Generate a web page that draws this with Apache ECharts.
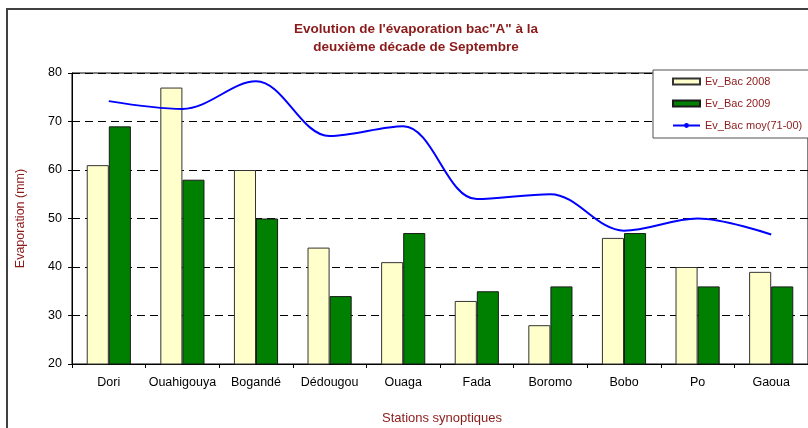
<!DOCTYPE html>
<html>
<head>
<meta charset="utf-8">
<script src="https://cdn.jsdelivr.net/npm/echarts@6/dist/echarts.min.js"></script>
<style>
html,body{margin:0;padding:0;background:#fff;}
#chart{width:808px;height:428px;}
</style>
</head>
<body>
<div id="chart"></div>
<script>
const categories = ['Dori','Ouahigouya','Bogandé','Dédougou','Ouaga','Fada','Boromo','Bobo','Po','Gaoua'];
const bac2008 = [61, 77, 60, 44, 41, 33, 28, 46, 40, 39];
const bac2009 = [69, 58, 50, 34, 47, 35, 36, 47, 36, 36];
const bacMoy = [74.2, 72.6, 78.3, 67, 69, 54, 55, 47.5, 50, 46.7];
const seriesNames = ['Ev_Bac 2008', 'Ev_Bac 2009', 'Ev_Bac moy(71-00)'];
const titleLines = ['Evolution de l\'évaporation bac"A" à la', 'deuxième décade de Septembre'];
const yAxisName = 'Evaporation (mm)';
const xAxisName = 'Stations synoptiques';

const FONT = '"Liberation Sans", Arial, sans-serif';
const DARKRED = '#8B1A1A';

const chart = echarts.init(document.getElementById('chart'), null, {renderer: 'canvas'});
chart.setOption({
  animation: false,
  backgroundColor: '#fff',
  textStyle: {fontFamily: FONT},
  graphic: [
    {type: 'rect', shape: {x: 7, y: 9, width: 900, height: 500},
     style: {fill: 'none', stroke: '#404040', lineWidth: 2}, silent: true, z: -10},
    {type: 'text', x: 416, y: 29, style: {text: titleLines[0], fill: DARKRED, font: 'bold 13.5px ' + FONT, textAlign: 'center', textVerticalAlign: 'middle'}},
    {type: 'text', x: 416, y: 47, style: {text: titleLines[1], fill: DARKRED, font: 'bold 13.5px ' + FONT, textAlign: 'center', textVerticalAlign: 'middle'}},
    {type: 'text', x: 442, y: 418, style: {text: xAxisName, fill: DARKRED, font: '13px ' + FONT, textAlign: 'center', textVerticalAlign: 'middle'}}
  ],
  legend: {
    orient: 'vertical',
    left: 653, top: 70,
    padding: [6, 40, 7, 19],
    itemGap: 11,
    itemWidth: 27, itemHeight: 6,
    backgroundColor: '#fff',
    borderColor: '#505050', borderWidth: 1,
    textStyle: {color: DARKRED, fontSize: 11, fontFamily: FONT},
    data: [
      {name: seriesNames[0], icon: 'rect'},
      {name: seriesNames[1], icon: 'rect'},
      {name: seriesNames[2]}
    ]
  },
  grid: {left: 72, top: 73, right: -1, bottom: 64, show: true, borderColor: '#000', borderWidth: 1, backgroundColor: 'transparent'},
  xAxis: {
    type: 'category',
    data: categories,
    boundaryGap: true,
    axisLine: {lineStyle: {color: '#000', width: 1}},
    axisTick: {show: true, length: 4, lineStyle: {color: '#000'}},
    axisLabel: {color: '#000', fontSize: 12.5, margin: 12, fontFamily: FONT, interval: 0},
    splitLine: {show: false}
  },
  yAxis: {
    type: 'value',
    min: 20, max: 80, interval: 10,
    name: yAxisName,
    nameLocation: 'middle',
    nameGap: 45,
    nameTextStyle: {color: DARKRED, fontSize: 12.5, fontFamily: FONT},
    axisLine: {show: true, lineStyle: {color: '#000', width: 1}},
    axisTick: {show: true, length: 4, lineStyle: {color: '#000'}},
    axisLabel: {color: '#000', fontSize: 12.5, margin: 10, fontFamily: FONT},
    splitLine: {show: true, lineStyle: {color: '#000', type: [8, 5], width: 1}}
  },
  series: [
    {name: seriesNames[0], type: 'bar', data: bac2008, barGap: '0%', barCategoryGap: '40%',
     itemStyle: {color: '#FFFFCC', borderColor: '#333', borderWidth: 1}},
    {name: seriesNames[1], type: 'bar', data: bac2009, barGap: '0%', barCategoryGap: '40%',
     itemStyle: {color: '#008000', borderColor: '#1a1a1a', borderWidth: 1}},
    {name: seriesNames[2], type: 'line', data: bacMoy, smooth: 0.35, symbol: 'none', showSymbol: false,
     lineStyle: {color: '#0000FF', width: 2}, itemStyle: {color: '#0000FF'}, z: 5}
  ]
});
</script>
</body>
</html>
